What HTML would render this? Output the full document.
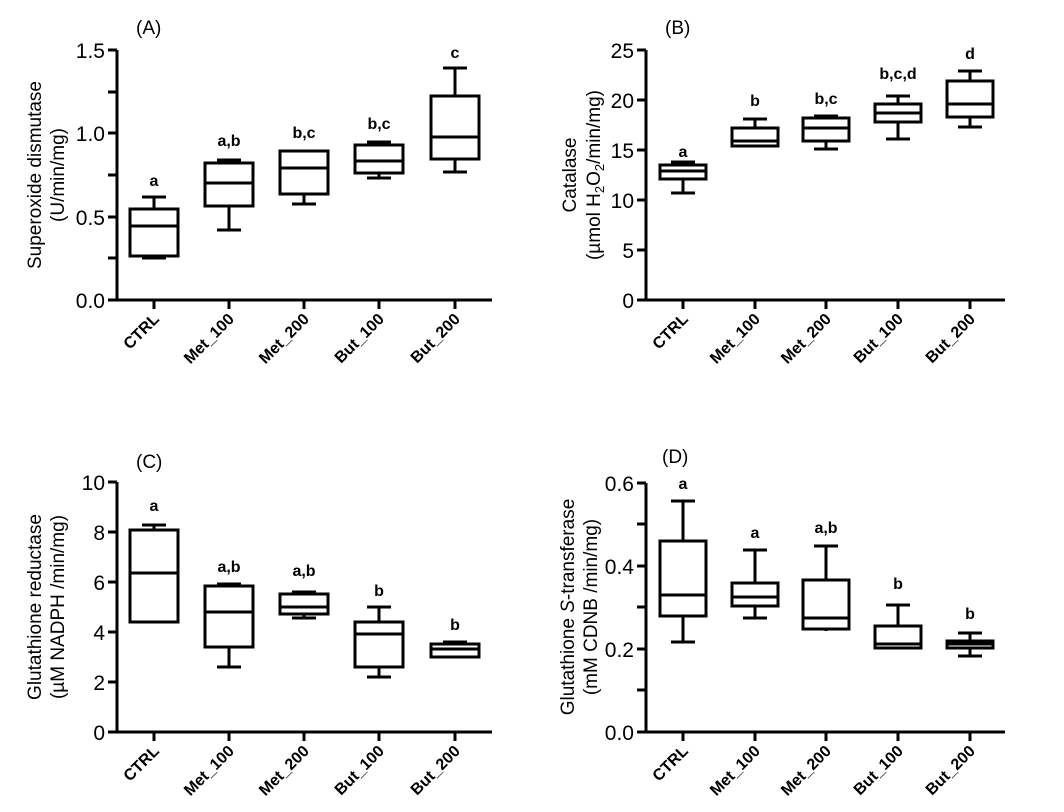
<!DOCTYPE html>
<html><head><meta charset="utf-8"><style>
html,body{margin:0;padding:0;background:#fff;}
svg{display:block;font-family:"Liberation Sans",Arial,sans-serif;}
.ax{stroke:#000;stroke-width:3;fill:none}
.bx{stroke:#000;stroke-width:3;fill:none}
.tl{font-size:21px;text-anchor:end}
.cl{font-size:16px;font-weight:bold;text-anchor:end}
.lt{font-size:16px;font-weight:bold;text-anchor:middle}
.yl{font-size:19px;text-anchor:middle}
.tt{font-size:19px}
</style></head><body>
<svg width="1064" height="812" viewBox="0 0 1064 812">
<rect width="1064" height="812" fill="#fff"/>

<!-- ===== Panel A ===== -->
<text class="tt" x="136" y="34">(A)</text>
<path class="ax" d="M117 50V300H492 M108 50H117 M108 92H117 M108 133H117 M108 175H117 M108 217H117 M108 258H117 M108 300H117 M154 300v9 M229 300v9 M304 300v9 M379 300v9 M455 300v9"/>
<text class="tl" x="105" y="58">1.5</text>
<text class="tl" x="105" y="141">1.0</text>
<text class="tl" x="105" y="225">0.5</text>
<text class="tl" x="105" y="308">0.0</text>
<text class="yl" transform="translate(41,175) rotate(-90)">Superoxide dismutase</text>
<text class="yl" transform="translate(64,175) rotate(-90)">(U/min/mg)</text>
<g class="bx">
<path d="M130 209H178V256H130Z M130 226H178 M154 209V197 M142 197H166 M154 256V258 M142 258H166"/>
<path d="M205 163H253V206H205Z M205 183H253 M229 163V160 M217 160H241 M229 206V230 M217 230H241"/>
<path d="M280 151H328V194H280Z M280 168H328 M304 194V204 M292 204H316"/>
<path d="M355 145H403V173H355Z M355 161H403 M379 145V142 M367 142H391 M379 173V178 M367 178H391"/>
<path d="M431 96H479V159H431Z M431 137H479 M455 96V68 M443 68H467 M455 159V172 M443 172H467"/>
</g>
<text class="lt" x="154" y="186">a</text>
<text class="lt" x="229" y="146">a,b</text>
<text class="lt" x="304" y="138">b,c</text>
<text class="lt" x="379" y="129">b,c</text>
<text class="lt" x="455" y="58">c</text>
<text class="cl" transform="translate(160,320) rotate(-45)">CTRL</text>
<text class="cl" transform="translate(235,320) rotate(-45)">Met_100</text>
<text class="cl" transform="translate(310,320) rotate(-45)">Met_200</text>
<text class="cl" transform="translate(385,320) rotate(-45)">But_100</text>
<text class="cl" transform="translate(461,320) rotate(-45)">But_200</text>

<!-- ===== Panel B ===== -->
<text class="tt" x="665" y="34">(B)</text>
<path class="ax" d="M646 50V300H1005 M637 50H646 M637 100H646 M637 150H646 M637 200H646 M637 250H646 M637 300H646 M683 300v9 M755 300v9 M826 300v9 M898 300v9 M970 300v9"/>
<text class="tl" x="634" y="58">25</text>
<text class="tl" x="634" y="108">20</text>
<text class="tl" x="634" y="158">15</text>
<text class="tl" x="634" y="208">10</text>
<text class="tl" x="634" y="258">5</text>
<text class="tl" x="634" y="308">0</text>
<text class="yl" transform="translate(576,175) rotate(-90)">Catalase</text>
<text class="yl" transform="translate(600,175) rotate(-90)">(µmol H<tspan font-size="13" dy="4">2</tspan><tspan dy="-4">O</tspan><tspan font-size="13" dy="4">2</tspan><tspan dy="-4">/min/mg)</tspan></text>
<g class="bx">
<path d="M660 165H706V179H660Z M660 171H706 M683 165V162 M671 162H695 M683 179V193 M671 193H695"/>
<path d="M732 128H778V146H732Z M732 141H778 M755 128V119 M743 119H767 M755 146V147"/>
<path d="M803 118H849V141H803Z M803 128H849 M826 118V116 M814 116H838 M826 141V149 M814 149H838"/>
<path d="M875 104H921V122H875Z M875 113H921 M898 104V96 M886 96H910 M898 122V139 M886 139H910"/>
<path d="M947 81H993V117H947Z M947 104H993 M970 81V71 M958 71H982 M970 117V127 M958 127H982"/>
</g>
<text class="lt" x="683" y="157">a</text>
<text class="lt" x="755" y="106">b</text>
<text class="lt" x="826" y="104">b,c</text>
<text class="lt" x="898" y="79">b,c,d</text>
<text class="lt" x="970" y="59">d</text>
<text class="cl" transform="translate(689,320) rotate(-45)">CTRL</text>
<text class="cl" transform="translate(761,320) rotate(-45)">Met_100</text>
<text class="cl" transform="translate(832,320) rotate(-45)">Met_200</text>
<text class="cl" transform="translate(904,320) rotate(-45)">But_100</text>
<text class="cl" transform="translate(976,320) rotate(-45)">But_200</text>

<!-- ===== Panel C ===== -->
<text class="tt" x="136" y="468">(C)</text>
<path class="ax" d="M117 482V732H492 M108 482H117 M108 532H117 M108 582H117 M108 632H117 M108 682H117 M108 732H117 M154 732v9 M229 732v9 M304 732v9 M379 732v9 M455 732v9"/>
<text class="tl" x="105" y="490">10</text>
<text class="tl" x="105" y="540">8</text>
<text class="tl" x="105" y="590">6</text>
<text class="tl" x="105" y="640">4</text>
<text class="tl" x="105" y="690">2</text>
<text class="tl" x="105" y="740">0</text>
<text class="yl" transform="translate(41,607) rotate(-90)">Glutathione reductase</text>
<text class="yl" transform="translate(64,607) rotate(-90)">(µM NADPH /min/mg)</text>
<g class="bx">
<path d="M130 530H178V622H130Z M130 573H178 M154 530V525 M142 525H166"/>
<path d="M205 586H253V647H205Z M205 612H253 M229 586V584 M217 584H241 M229 647V667 M217 667H241"/>
<path d="M280 594H328V614H280Z M280 607H328 M304 594V592 M292 592H316 M304 614V618 M292 618H316"/>
<path d="M355 622H403V667H355Z M355 634H403 M379 622V607 M367 607H391 M379 667V677 M367 677H391"/>
<path d="M431 644H479V657H431Z M431 649H479 M455 644V642 M443 642H467"/>
</g>
<text class="lt" x="154" y="511">a</text>
<text class="lt" x="229" y="572">a,b</text>
<text class="lt" x="304" y="576">a,b</text>
<text class="lt" x="379" y="596">b</text>
<text class="lt" x="455" y="630">b</text>
<text class="cl" transform="translate(160,752) rotate(-45)">CTRL</text>
<text class="cl" transform="translate(235,752) rotate(-45)">Met_100</text>
<text class="cl" transform="translate(310,752) rotate(-45)">Met_200</text>
<text class="cl" transform="translate(385,752) rotate(-45)">But_100</text>
<text class="cl" transform="translate(461,752) rotate(-45)">But_200</text>

<!-- ===== Panel D ===== -->
<text class="tt" x="662" y="463">(D)</text>
<path class="ax" d="M646 483V732H1005 M637 483H646 M637 524H646 M637 566H646 M637 607H646 M637 649H646 M637 690H646 M637 732H646 M683 732v9 M755 732v9 M826 732v9 M898 732v9 M970 732v9"/>
<text class="tl" x="634" y="491">0.6</text>
<text class="tl" x="634" y="574">0.4</text>
<text class="tl" x="634" y="657">0.2</text>
<text class="tl" x="634" y="740">0.0</text>
<text class="yl" transform="translate(574,607) rotate(-90)">Glutathione <tspan font-style="italic">S</tspan>-transferase</text>
<text class="yl" transform="translate(597,607) rotate(-90)">(mM CDNB /min/mg)</text>
<g class="bx">
<path d="M660 541H706V616H660Z M660 595H706 M683 541V501 M671 501H695 M683 616V642 M671 642H695"/>
<path d="M732 583H778V606H732Z M732 597H778 M755 583V550 M743 550H767 M755 606V618 M743 618H767"/>
<path d="M803 580H849V629H803Z M803 618H849 M826 580V546 M814 546H838 M826 629V631"/>
<path d="M875 626H921V648H875Z M875 644H921 M898 626V605 M886 605H910 M898 648V649"/>
<path d="M947 641H993V648H947Z M947 644H993 M970 641V633 M958 633H982 M970 648V656 M958 656H982"/>
</g>
<text class="lt" x="683" y="489">a</text>
<text class="lt" x="755" y="538">a</text>
<text class="lt" x="826" y="533">a,b</text>
<text class="lt" x="898" y="589">b</text>
<text class="lt" x="970" y="619">b</text>
<text class="cl" transform="translate(689,752) rotate(-45)">CTRL</text>
<text class="cl" transform="translate(761,752) rotate(-45)">Met_100</text>
<text class="cl" transform="translate(832,752) rotate(-45)">Met_200</text>
<text class="cl" transform="translate(904,752) rotate(-45)">But_100</text>
<text class="cl" transform="translate(976,752) rotate(-45)">But_200</text>
</svg>
</body></html>
